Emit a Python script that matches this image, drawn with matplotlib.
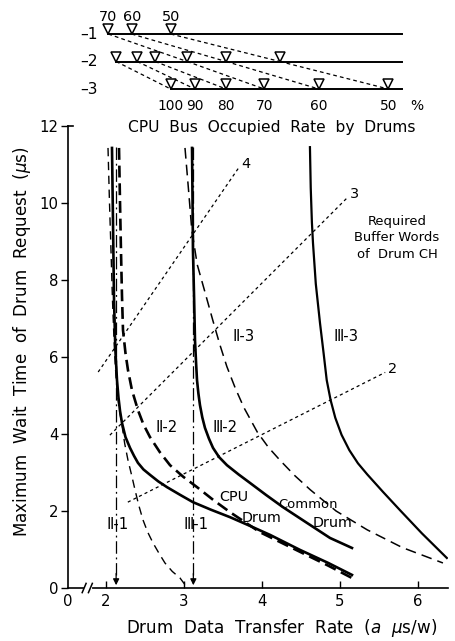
import matplotlib
matplotlib.use('Agg')
import matplotlib.pyplot as plt
from matplotlib import font_manager

# ---- data --------------------------------------------------------------
# top panel: transfer rate at which each drum-bus occupancy mark sits
row1_x   = [2.03, 2.33, 2.83]
row1_pct = [70, 60, 50]
row2_x   = [2.13, 2.40, 2.63, 3.04, 3.54, 4.23]
row2_pct = [100, 90, 80, 70, 60, 50]
row3_x   = [2.83, 3.14, 3.54, 4.03, 4.73, 5.62]
row3_pct = [100, 90, 80, 70, 60, 50]
row_end  = 5.79

# main panel curves (x = transfer rate, y = max wait time)
cpu_x = [2.077, 2.09, 2.103, 2.12, 2.141, 2.16, 2.18, 2.205, 2.25, 2.308, 2.36, 2.41, 2.48,
         2.564, 2.67, 2.782, 2.95, 3.115, 3.35, 3.59, 3.85, 4.103, 4.487, 4.85, 5.154]
cpu_y = [11.43, 9.5, 7.48, 6.2, 5.40, 4.95, 4.6, 4.29, 3.92, 3.64, 3.43, 3.25, 3.08,
         2.94, 2.77, 2.62, 2.42, 2.23, 2.03, 1.84, 1.61, 1.38, 0.99, 0.65, 0.34]

ii2_x = [2.167, 2.18, 2.192, 2.205, 2.218, 2.25, 2.282, 2.333, 2.41, 2.48, 2.564, 2.69,
         2.821, 2.99, 3.167, 3.38, 3.59, 3.974, 4.487, 4.85, 5.154]
ii2_y = [11.43, 10.0, 8.78, 7.6, 6.70, 6.1, 5.66, 5.14, 4.62, 4.25, 3.92, 3.53,
         3.19, 2.89, 2.62, 2.28, 1.97, 1.45, 0.94, 0.58, 0.26]

ii1_x = [2.026, 2.045, 2.064, 2.083, 2.103, 2.12, 2.141, 2.17, 2.205, 2.24, 2.282, 2.33,
         2.372, 2.42, 2.474, 2.535, 2.603, 2.68, 2.756, 2.85, 2.949, 3.026]
ii1_y = [11.43, 10.0, 8.78, 7.5, 6.44, 5.75, 5.14, 4.65, 4.23, 3.75, 3.32, 2.92,
         2.55, 2.15, 1.77, 1.45, 1.17, 0.9, 0.65, 0.43, 0.26, 0.05]

ii3_x = [3.013, 3.06, 3.10, 3.17, 3.26, 3.37, 3.46, 3.55, 3.66, 3.77, 3.94, 4.08, 4.23,
         4.42, 4.62, 4.95, 5.35, 5.80, 6.32]
ii3_y = [11.43, 10.3, 9.3, 8.4, 7.75, 6.95, 6.32, 5.75, 5.18, 4.68, 4.05, 3.66, 3.32,
         2.92, 2.55, 2.0, 1.51, 1.05, 0.65]

iii2_x = [3.103, 3.11, 3.115, 3.13, 3.141, 3.155, 3.167, 3.185, 3.205, 3.235, 3.269, 3.32,
          3.372, 3.45, 3.551, 3.70, 3.846, 4.05, 4.269, 4.57, 4.872, 5.154]
iii2_y = [11.43, 10.0, 8.78, 7.5, 6.44, 5.85, 5.40, 5.05, 4.75, 4.43, 4.16, 3.88,
          3.64, 3.40, 3.19, 2.95, 2.73, 2.42, 2.10, 1.70, 1.30, 1.04]

iii3_x = [4.615, 4.625, 4.64, 4.654, 4.69, 4.744, 4.79, 4.83, 4.88, 4.94, 5.02, 5.12,
          5.23, 5.35, 5.55, 5.77, 6.05, 6.37]
iii3_y = [11.45, 10.4, 9.5, 8.96, 7.9, 6.88, 6.1, 5.40, 4.88, 4.42, 3.98, 3.58,
          3.24, 2.95, 2.50, 2.02, 1.42, 0.78]

vline_x   = [2.13, 3.12]        # II-1 / III-1 limits
vline_top = 11.45

buf_labels = ['4', '3', '2']
buf_x      = [[1.90, 3.70], [2.05, 5.09], [2.28, 5.58]]
buf_y      = [[5.61, 10.91], [3.97, 10.13], [2.23, 5.60]]

x_ticks  = [2, 3, 4, 5, 6]
y_ticks  = [0, 2, 4, 6, 8, 10, 12]
x_origin = 1.513                # where the broken axis shows "0"

# ---- fonts ----------------------------------------------------------------
names = {f.name for f in font_manager.fontManager.ttflist}
if 'Liberation Sans Narrow' in names:
    FONT, S = 'Liberation Sans Narrow', 1.0
else:
    FONT, S = 'DejaVu Sans', 0.86
plt.rcParams['font.family'] = [FONT, 'DejaVu Sans', 'Noto Sans CJK JP']
plt.rcParams['mathtext.fontset'] = 'dejavusans'

W, H = 456, 641
fig = plt.figure(figsize=(W / 100, H / 100), dpi=100)

# main axes: px x 68..448, px y 126..588
ax = fig.add_axes([68 / W, (H - 588) / H, 380 / W, 462 / H])
ax.set_xlim(x_origin, 6.385)
ax.set_ylim(0, 12)
for s in ('top', 'right'):
    ax.spines[s].set_visible(False)
ax.spines['left'].set_linewidth(1.2)
ax.spines['bottom'].set_linewidth(1.2)

ax.set_xticks([x_origin] + x_ticks)
ax.set_xticklabels(['0'] + [str(t) for t in x_ticks], fontsize=12.5 * S)
ax.set_yticks(y_ticks)
ax.set_yticklabels([str(t) for t in y_ticks], fontsize=12.5 * S)
ax.tick_params(axis='x', direction='in', length=5, width=1, pad=4)
ax.tick_params(axis='y', direction='out', length=5, width=1, pad=2)
ax.xaxis.get_major_ticks()[0].tick1line.set_visible(False)
ax.plot([x_origin, x_origin + 0.07], [12, 12], color='k', lw=1.2, clip_on=False)

# axis break marks
ax.plot([1.74, 1.80], [0, 0], color='white', lw=3, clip_on=False, zorder=5)
for bx in (1.72, 1.80):
    ax.plot([bx - 0.025, bx + 0.025], [-0.12, 0.12], color='k', lw=1.1, clip_on=False, zorder=6)

# curves
ax.plot(cpu_x, cpu_y, color='k', lw=1.9)
ax.plot(iii2_x, iii2_y, color='k', lw=1.9)
ax.plot(iii3_x, iii3_y, color='k', lw=1.6)
ax.plot(ii2_x, ii2_y, color='k', lw=1.9, dashes=(4.5, 2.2))
ax.plot(ii1_x, ii1_y, color='k', lw=1.0, dashes=(6, 4))
ax.plot(ii3_x, ii3_y, color='k', lw=1.1, dashes=(7, 4))

for vx in vline_x:
    ax.plot([vx, vx], [vline_top, 0.35], color='k', lw=0.9, dashes=(10, 3, 1.5, 3))
    ax.annotate('', xy=(vx, 0), xytext=(vx, 0.45),
                arrowprops=dict(arrowstyle='-|>', color='k', lw=0.9, mutation_scale=9))

for lab, bx, by in zip(buf_labels, buf_x, buf_y):
    ax.plot(bx, by, color='k', lw=0.9, dashes=(2.5, 2.5))
    ax.text(bx[1] + 0.04, by[1] + 0.1, lab, fontsize=12 * S, ha='left', va='center')

ax.text(5.73, 9.1, 'Required\nBuffer Words\nof  Drum CH', fontsize=11 * S,
        ha='center', va='center', linespacing=1.35)

roman = [
    ('Ⅱ-3', 3.76, 6.52), ('Ⅲ-3', 5.08, 6.52),
    ('Ⅱ-2', 2.78, 4.16), ('Ⅲ-2', 3.53, 4.16),
    ('Ⅱ-1', 2.15, 1.64), ('Ⅲ-1', 3.15, 1.64),
]
for t, tx, ty in roman:
    ax.text(tx, ty, t, fontsize=12.5 * S, ha='center', va='center')

ax.text(3.64, 2.36, 'CPU', fontsize=12 * S, ha='center', va='center')
ax.text(4.00, 1.82, 'Drum', fontsize=12 * S, ha='center', va='center')
ax.text(4.59, 2.16, 'Common', fontsize=11 * S, ha='center', va='center')
ax.text(4.91, 1.69, 'Drum', fontsize=12 * S, ha='center', va='center')

ax.text(4.13, 11.97, 'CPU  Bus  Occupied  Rate  by  Drums', fontsize=13 * S,
        ha='center', va='center', clip_on=False)

fig.text(22 / W, 1 - 342 / H, 'Maximum  Wait  Time  of  Drum  Request  ($\\mu$s)',
         rotation=90, ha='center', va='center', fontsize=14 * S)
fig.text(282 / W, 1 - 628 / H, 'Drum  Data  Transfer  Rate  ($a$  $\\mu$s/w)',
         ha='center', va='center', fontsize=14 * S)

# ---- top panel: bus occupied rate ----------------------------------------
top = fig.add_axes([68 / W, (H - 115) / H, 380 / W, 105 / H])
top.set_xlim(x_origin, 6.385)
top.set_ylim(-3.945, -0.127)
top.axis('off')

rows = [(row1_x, row1_pct, -1), (row2_x, row2_pct, -2), (row3_x, row3_pct, -3)]
for xs, pcts, ry in rows:
    top.plot([min(xs), row_end], [ry, ry], color='k', lw=1.4)
    top.plot(xs, [ry + 0.17] * len(xs), linestyle='none', marker='v', markersize=7,
             markerfacecolor='white', markeredgecolor='k', markeredgewidth=1.1, zorder=4)
    top.text(1.90, ry, f'–{-ry}', fontsize=13 * S, ha='right', va='center')

# connect equal percentages between rows
for (xa, pa, ya), (xb, pb, yb) in [(rows[0], rows[1]), (rows[1], rows[2])]:
    for x0, p in zip(xa, pa):
        if p in pb:
            top.plot([x0, xb[pb.index(p)]], [ya, yb], color='k', lw=0.9, dashes=(3, 2.5))

for x0, p in zip(row1_x, row1_pct):
    top.text(x0, -0.38, str(p), fontsize=12 * S, ha='center', va='center')
for x0, p in zip(row3_x, row3_pct):
    top.text(x0, -3.62, str(p), fontsize=11.5 * S, ha='center', va='center')
top.text(5.99, -3.62, '%', fontsize=11.5 * S, ha='center', va='center')

fig.savefig('out.png', dpi=100)
